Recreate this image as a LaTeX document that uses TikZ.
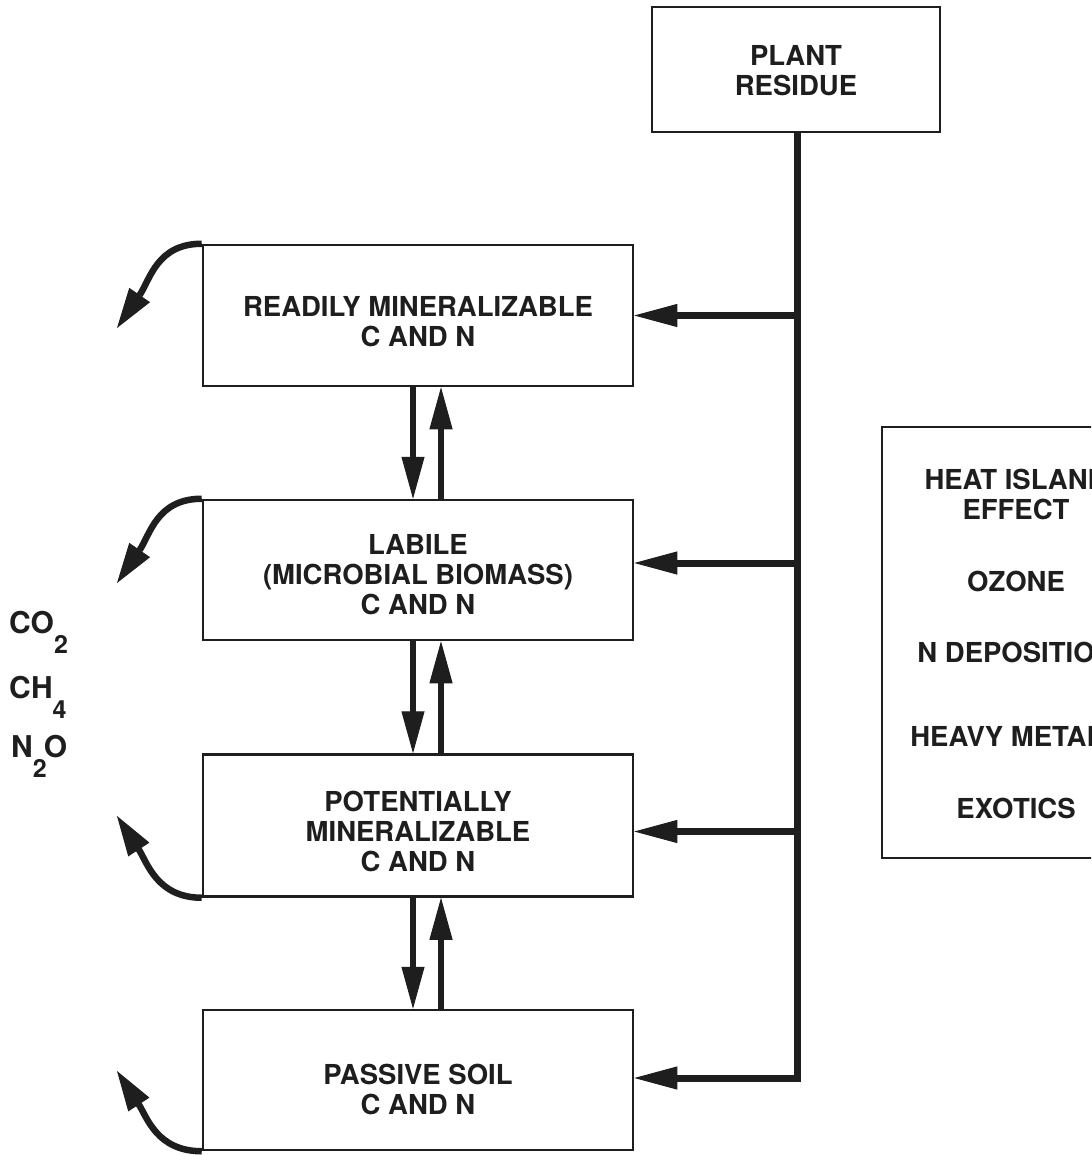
\documentclass[tikz,border=0pt]{standalone}
\usepackage{fontspec}
\setmainfont{TeX Gyre Heros}
\usetikzlibrary{arrows.meta,calc}
\definecolor{ink}{RGB}{30,30,30}
\begin{document}
\begin{tikzpicture}[x=1pt,y=-1pt,
  txt/.style={text=ink,font=\bfseries\fontsize{27.5}{30}\selectfont,align=center,inner sep=0pt},
  box/.style={draw=ink,line width=2.5pt,minimum width=430pt,minimum height=141pt,inner sep=0pt},
  flow/.style={draw=ink,line width=7pt,line join=miter,-{Triangle[length=43pt,width=23pt,line width=1pt]}},
  updown/.style={draw=ink,line width=5.5pt,-{Triangle[length=42pt,width=23pt,line width=1pt]}},
  curl/.style={draw=ink,line width=6.5pt,-{Triangle[length=40pt,width=25pt,line width=1pt]}},
  gas/.style={text=ink,font=\bfseries\fontsize{30}{30}\selectfont,inner sep=0pt,anchor=base west}]
\useasboundingbox (0,0) rectangle (1091,1155);
\clip (0,0) rectangle (1091,1155);
\fill[white] (0,0) rectangle (1091,1155);

% boxes
\node[box,minimum width=288pt,minimum height=125pt] (plant) at (796,69.5) {};
\node[txt] (tp) at (796,71) {PLANT\\RESIDUE};
\node[box] (b1) at (418,315.5) {};
\node[txt] (t1) at (418,322) {READILY MINERALIZABLE\\C AND N};
\node[box,minimum height=140pt] (b2) at (418,570) {};
\node[txt] (t2) at (418,575) {LABILE\\(MICROBIAL BIOMASS)\\C AND N};
\node[box,minimum height=142pt] (b3) at (418,825.5) {};
\node[txt] (t3) at (418,831) {POTENTIALLY\\MINERALIZABLE\\C AND N};
\node[box,minimum height=140pt] (b4) at (418,1080) {};
\node[txt] (t4) at (418,1089) {PASSIVE SOIL\\C AND N};

% trunk and feeds
\coordinate (top) at (797,132);
\draw[flow] (top) |- ($(b4.east)+(0,-2)$);
\draw[flow] (b1.east -| top) -- (b1.east);
\draw[flow] ($(b2.east -| top)+(0,-7)$) -- ($(b2.east)+(0,-7)$);
\draw[flow] ($(b3.east -| top)+(0,6)$) -- ($(b3.east)+(0,6)$);

% exchanges between pools
\draw[updown] ($(b1.south)+(-5,0)$) -- ($(b2.north)+(-5,0)$);
\draw[updown] ($(b2.north)+(23,0)$) -- ($(b1.south)+(23,0)$);
\draw[updown] ($(b2.south)+(-5,0)$) -- ($(b3.north)+(-5,0)$);
\draw[updown] ($(b3.north)+(23,0)$) -- ($(b2.south)+(23,0)$);
\draw[updown] ($(b3.south)+(-5,0)$) -- ($(b4.north)+(-5,0)$);
\draw[updown] ($(b4.north)+(23,0)$) -- ($(b3.south)+(23,0)$);

% gas losses
\coordinate (g1) at (117,328);
\coordinate (g2) at (117,583);
\coordinate (g3) at (117,816);
\coordinate (g4) at (117,1071);
\draw[curl] (b1.north west) .. controls +(-45,0) and (150,280) .. (g1);
\draw[curl] (b2.north west) .. controls +(-45,0) and (150,535) .. (g2);
\draw[curl] (b3.south west) .. controls +(-45,0) and (147,862) .. (g3);
\draw[curl] (b4.south west) .. controls +(-45,0) and (147,1117) .. (g4);

\node[gas] (co2) at (9,633) {CO\raisebox{-20pt}{\fontsize{25}{25}\selectfont 2}};
\node[gas] (ch4) at (9,698) {CH\raisebox{-20pt}{\fontsize{25}{25}\selectfont 4}};
\node[gas] (n2o) at (11,757) {N\raisebox{-20pt}{\fontsize{25}{25}\selectfont 2}\kern-3pt O};

% stresses box
\node[draw=ink,line width=2.5pt,minimum width=268pt,minimum height=431pt,inner sep=0pt] (stress) at (1016,642.5) {};
\node[txt] (heat) at (1016,494) {HEAT ISLAND\\EFFECT};
\node[txt] (ozone) at (1016,581) {OZONE};
\node[txt] (ndep) at (1016,652) {N DEPOSITION};
\node[txt] (metal) at (1016,736) {HEAVY METALS};
\node[txt] (exotic) at (1016,808) {EXOTICS};
\end{tikzpicture}
\end{document}
